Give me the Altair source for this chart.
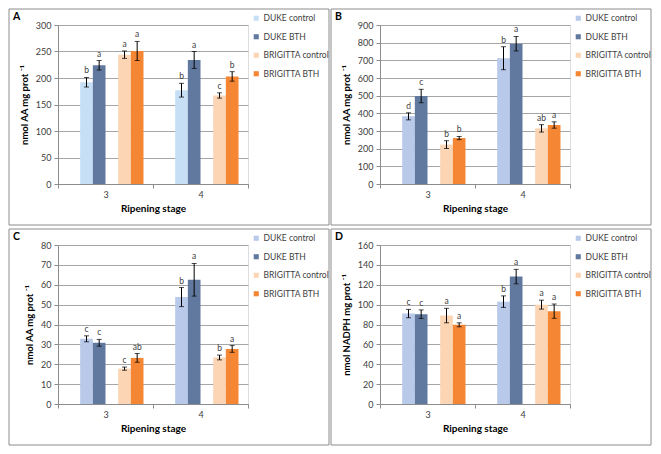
import altair as alt
import pandas as pd

FONT = "Lato"

stages = ["3", "4"]
series = ["DUKE control", "DUKE BTH", "BRIGITTA control", "BRIGITTA BTH"]
offset_domain = ["_pad", "DUKE control", "DUKE BTH", "_gap", "BRIGITTA control", "BRIGITTA BTH"]

# Panel A
a_vals = [[192, 224, 244, 251], [177, 234, 167, 203]]
a_errs = [[9, 9, 7, 18], [13, 16, 5, 9]]
a_lets = [["b", "a", "a", "a"], ["b", "a", "c", "b"]]
# Panel B
b_vals = [[383, 498, 223, 260], [712, 794, 315, 334]]
b_errs = [[20, 38, 22, 9], [65, 41, 21, 18]]
b_lets = [["d", "c", "b", "b"], ["b", "a", "ab", "a"]]
# Panel C
c_vals = [[32.8, 30.8, 17.8, 23.2], [53.8, 62.5, 23.4, 27.7]]
c_errs = [[1.5, 1.7, 0.8, 2.2], [4.8, 8.2, 1.2, 1.7]]
c_lets = [["c", "c", "c", "ab"], ["b", "a", "b", "a"]]
# Panel D
d_vals = [[91, 90.4, 89, 79.7], [103, 128.2, 100, 93.4]]
d_errs = [[4.2, 4.3, 7.3, 2.0], [5.8, 7.3, 4.5, 7.2]]
d_lets = [["c", "c", "a", "a"], ["b", "a", "a", "a"]]

colors_a = ["#c6dff5", "#61799f", "#fcd5b4", "#f58634"]
colors_bcd = ["#b9c9ea", "#61799f", "#fcd5b4", "#f58634"]

title_aa = "nmol AA mg prot \u207b\u00b9"
title_nadph = "nmol NADPH mg prot \u207b\u00b9"

PW, PH = 190, 159


def make_df(vals, errs, lets):
    rows = []
    for i, st in enumerate(stages):
        for j, s in enumerate(series):
            v, e = vals[i][j], errs[i][j]
            rows.append(dict(stage=st, series=s, value=v, lo=v - e, hi=v + e, letter=lets[i][j]))
    return pd.DataFrame(rows)


def panel(letter, vals, errs, lets, ymax, ystep, ytitle, colors):
    df = make_df(vals, errs, lets)
    xenc = alt.X("stage:N", scale=alt.Scale(paddingInner=0, paddingOuter=0),
                 axis=alt.Axis(title="Ripening stage", titleFontSize=10, titleFontWeight="bold",
                               titleColor="black", titleFont=FONT, labelFont=FONT,
                               labelFontSize=9, labelColor="#404040", labelAngle=0,
                               tickBand="extent", tickSize=4, tickColor="#8c8c8c",
                               domainColor="#8c8c8c", labelPadding=2, titlePadding=4, grid=False))
    xoff = alt.XOffset("series:N", scale=alt.Scale(domain=offset_domain, paddingInner=0, paddingOuter=0.75))
    yaxis = alt.Axis(values=list(range(0, ymax + 1, ystep)), titleFontSize=9.5, titleFontWeight="bold",
                     titleColor="black", titleFont=FONT, labelFont=FONT, labelFontSize=9,
                     labelColor="#404040", grid=True, gridColor="#a6a6a6", domainColor="#8c8c8c",
                     tickColor="#8c8c8c", tickSize=4, labelPadding=3, titlePadding=6)
    yscale = alt.Scale(domain=[0, ymax], nice=False)

    def Y(field):
        return alt.Y(f"{field}:Q", scale=yscale, axis=yaxis, title=ytitle)

    base = alt.Chart(df)
    bars = base.mark_bar().encode(
        x=xenc, xOffset=xoff, y=Y("value"),
        color=alt.Color("series:N", scale=alt.Scale(domain=series, range=colors),
                        legend=alt.Legend(title=None, orient="none", legendX=194, legendY=-11,
                                          symbolType="square", symbolSize=26, symbolStrokeWidth=0,
                                          labelFont=FONT, labelFontSize=8.5, labelColor="#404040",
                                          rowPadding=9.5, labelOffset=3)))
    rule = base.mark_rule(color="black", strokeWidth=1).encode(x=xenc, xOffset=xoff, y=Y("lo"), y2="hi:Q")
    tlo = base.mark_tick(color="black", size=5, thickness=1).encode(x=xenc, xOffset=xoff, y=Y("lo"))
    thi = base.mark_tick(color="black", size=5, thickness=1).encode(x=xenc, xOffset=xoff, y=Y("hi"))
    txt = base.mark_text(baseline="bottom", dy=-2, font=FONT, fontSize=8.5, color="#404040").encode(
        x=xenc, xOffset=xoff, y=Y("hi"), text="letter:N")
    lab = alt.Chart(pd.DataFrame({"t": [letter]})).mark_text(
        align="left", baseline="middle", font=FONT, fontSize=10.5, fontWeight="bold", color="black"
    ).encode(x=alt.value(-45), y=alt.value(-8), text="t:N")
    box = alt.Chart(pd.DataFrame({"t": [letter]})).mark_rect(
        filled=False, stroke="#8c8c8c", strokeWidth=1
    ).encode(x=alt.value(-49), x2=alt.value(271), y=alt.value(-16), y2=alt.value(200))
    return alt.layer(box, bars, rule, tlo, thi, txt, lab).properties(width=PW, height=PH)


pA = panel("A", a_vals, a_errs, a_lets, 300, 50, title_aa, colors_a)
pB = panel("B", b_vals, b_errs, b_lets, 900, 100, title_aa, colors_bcd)
pC = panel("C", c_vals, c_errs, c_lets, 80, 10, title_aa, colors_bcd)
pD = panel("D", d_vals, d_errs, d_lets, 160, 20, title_nadph, colors_bcd)

chart = alt.concat(pA, pB, pC, pD, columns=2, spacing={"row": 61, "column": 132}, bounds="flush").resolve_scale(
    color="independent"
).properties(padding=0).configure_view(stroke="#a6a6a6").configure(background="white")

chart.save("out.html", embed_options={"renderer": "svg", "actions": False})
